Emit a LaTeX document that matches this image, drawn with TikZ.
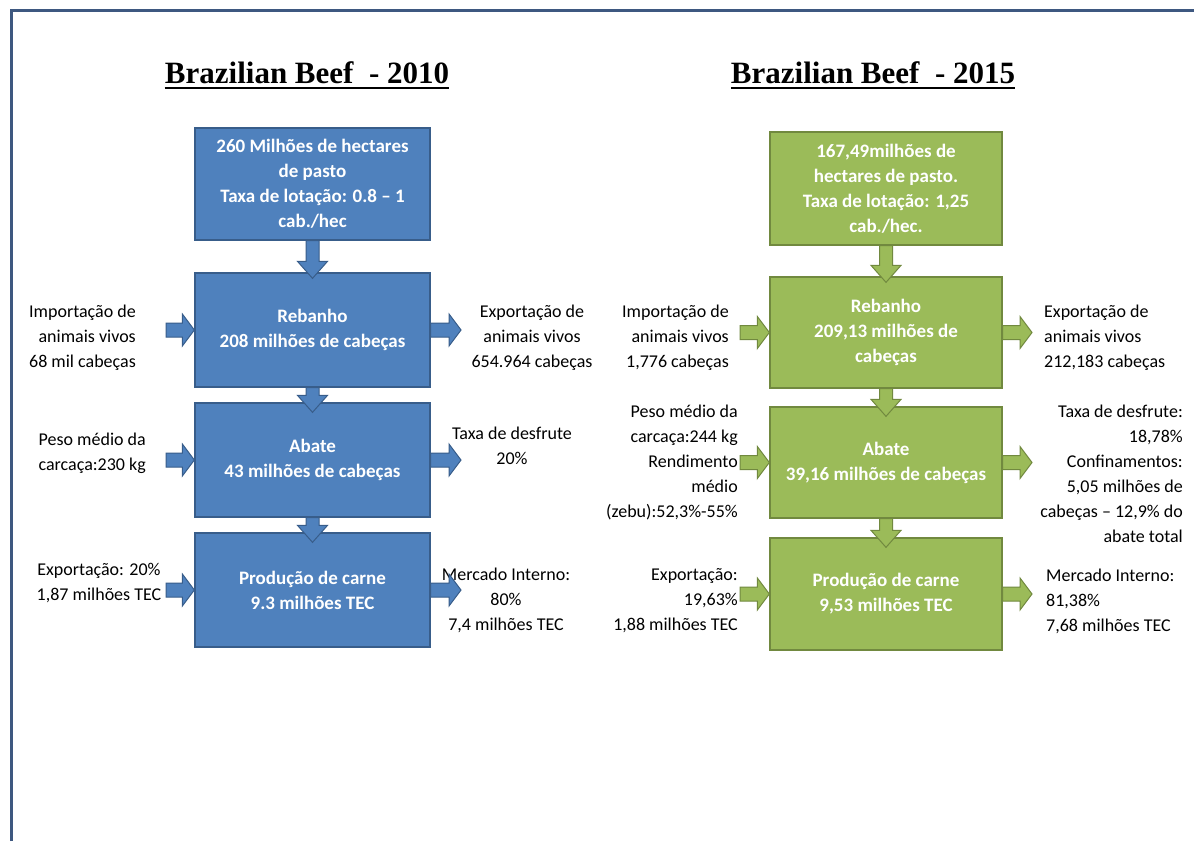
\documentclass[tikz,border=0pt]{standalone}
\usepackage{fontspec}
\setmainfont{Carlito}
\newfontfamily\titlefont{Liberation Serif}
\usetikzlibrary{calc}
\definecolor{bluefill}{RGB}{79,129,189}
\definecolor{bluebd}{RGB}{56,93,138}
\definecolor{greenfill}{RGB}{155,187,89}
\definecolor{greenbd}{RGB}{113,137,63}
\definecolor{framec}{RGB}{62,88,128}
\newcommand\blockh[3][]{\path[#1] let \p1=(#2), \p2=(#3) in
  (\x1,\y1+7pt) -- (\x2-12pt,\y1+7pt) -- (\x2-12pt,\y1+16pt) -- (\x2,\y1)
  -- (\x2-12pt,\y1-16pt) -- (\x2-12pt,\y1-7pt) -- (\x1,\y1-7pt) -- cycle;}
\newcommand\blockv[3][]{\path[#1] let \p1=(#2), \p2=(#3) in
  (\x1-6.5pt,\y1) -- (\x1-6.5pt,\y2+17pt) -- (\x1-15pt,\y2+17pt) -- (\x1,\y2)
  -- (\x1+15pt,\y2+17pt) -- (\x1+6.5pt,\y2+17pt) -- (\x1+6.5pt,\y1) -- cycle;}
\tikzset{
  box/.style={rectangle, inner sep=0pt, line width=1.3pt, text=white, align=center,
    font=\bfseries\fontsize{19}{25}\selectfont},
  bbox/.style={box, fill=bluefill, draw=bluebd, minimum width=235pt},
  gbox/.style={box, fill=greenfill, draw=greenbd, minimum width=232pt},
  side/.style={inner sep=0pt, text=black, font=\fontsize{18}{25}\selectfont},
  barr/.style={fill=bluefill, draw=bluebd, line width=1pt},
  garr/.style={fill=greenfill, draw=greenbd, line width=1pt},
  ttl/.style={inner sep=0pt, anchor=base, font=\titlefont\bfseries\fontsize{31}{36}\selectfont},
  uline/.style={line width=2.6pt}
}
\begin{document}
\begin{tikzpicture}[x=1pt,y=-1pt]
\useasboundingbox (0,0) rectangle (1194,841);
\fill[white] (0,0) rectangle (1194,841);
\draw[framec, line width=3pt] (11,841) -- (11,10) -- (1194,10);

% titles
\node[ttl] (t1) at (307,83) {Brazilian Beef\ \ - 2010};
\node[ttl] (t2) at (873,83) {Brazilian Beef\ \ - 2015};
\draw[uline] ([yshift=-5pt]t1.base west) -- ([yshift=-5pt]t1.base east);
\draw[uline] ([yshift=-5pt]t2.base west) -- ([yshift=-5pt]t2.base east);

% 2010 boxes
\node[bbox, minimum height=112pt] (b1) at (312.5,184) {260 Milhões de hectares\\de pasto\\Taxa de lotação: 0.8 – 1\\cab./hec};
\node[bbox, minimum height=114pt] (b2) at (312.5,330) {Rebanho\\208 milhões de cabeças};
\node[bbox, minimum height=114pt] (b3) at (312.5,460) {Abate\\43 milhões de cabeças};
\node[bbox, minimum height=114pt] (b4) at (312.5,590) {Produção de carne\\9.3 milhões TEC};

% 2015 boxes
\node[gbox, minimum height=113pt] (g1) at (886,188.5) {167,49milhões de\\hectares de pasto.\\Taxa de lotação: 1,25\\cab./hec.};
\node[gbox, minimum height=111pt] (g2) at (886,332.5) {Rebanho\\209,13 milhões de\\cabeças};
\node[gbox, minimum height=111pt] (g3) at (886,462.5) {Abate\\39,16 milhões de cabeças};
\node[gbox, minimum height=112pt] (g4) at (886,594) {Produção de carne\\9,53 milhões TEC};

% down arrows
\blockv[barr]{b1.south}{[yshift=-6pt]b2.north}
\blockv[barr]{b2.south}{[yshift=-10pt]b3.north}
\blockv[barr]{b3.south}{[yshift=-10pt]b4.north}
\blockv[garr]{g1.south}{[yshift=-6pt]g2.north}
\blockv[garr]{g2.south}{[yshift=-10pt]g3.north}
\blockv[garr]{g3.south}{[yshift=-10pt]g4.north}

% 2010 side texts
\node[side, align=right, anchor=east] (i1) at (136,338) {Importação de\\animais vivos\\68 mil cabeças};
\node[side, align=center] (e1) at (532,338) {Exportação de\\animais vivos\\654.964 cabeças};
\node[side, align=right, anchor=east] (p1) at (146,453) {Peso médio da\\carcaça:230 kg};
\node[side, align=center] (d1) at (512,446) {Taxa de desfrute\\20\%};
\node[side, align=center] (x1) at (99,583) {Exportação: 20\%\\1,87 milhões TEC};
\node[side, align=center] (m1) at (506,600) {Mercado Interno:\\80\%\\7,4 milhões TEC};

% 2015 side texts
\node[side, align=right, anchor=east] (i2) at (729,338) {Importação de\\animais vivos\\1,776 cabeças};
\node[side, align=left, anchor=west] (e2) at (1044,338) {Exportação de\\animais vivos\\212,183 cabeças};
\node[side, align=right, anchor=east] (p2) at (738,462) {Peso médio da\\carcaça:244 kg\\Rendimento\\médio\\(zebu):52,3\%-55\%};
\node[side, align=right, anchor=east] (d2) at (1183,474) {Taxa de desfrute:\\18,78\%\\Confinamentos:\\5,05 milhões de\\cabeças – 12,9\% do\\abate total};
\node[side, align=right, anchor=east] (x2) at (738,601) {Exportação:\\19,63\%\\1,88 milhões TEC};
\node[side, align=left, anchor=west] (m2) at (1046,601) {Mercado Interno:\\81,38\%\\7,68 milhões TEC};

% side arrow anchor points
\coordinate (ai1) at (166,330);
\coordinate (ae1) at (461,330);
\coordinate (ap1) at (166,460);
\coordinate (ad1) at (461,460);
\coordinate (ax1) at (166,590);
\coordinate (am1) at (461,590);
\coordinate (ai2) at (740,332.5);
\coordinate (ae2) at (1032,332.5);
\coordinate (ap2) at (740,462.5);
\coordinate (ad2) at (1032,462.5);
\coordinate (ax2) at (740,594);
\coordinate (am2) at (1032,594);

\blockh[barr]{ai1}{b2.west}
\blockh[barr]{b2.east}{ae1}
\blockh[barr]{ap1}{b3.west}
\blockh[barr]{b3.east}{ad1}
\blockh[barr]{ax1}{b4.west}
\blockh[barr]{b4.east}{am1}
\blockh[garr]{ai2}{g2.west}
\blockh[garr]{g2.east}{ae2}
\blockh[garr]{ap2}{g3.west}
\blockh[garr]{g3.east}{ad2}
\blockh[garr]{ax2}{g4.west}
\blockh[garr]{g4.east}{am2}
\end{tikzpicture}
\end{document}
